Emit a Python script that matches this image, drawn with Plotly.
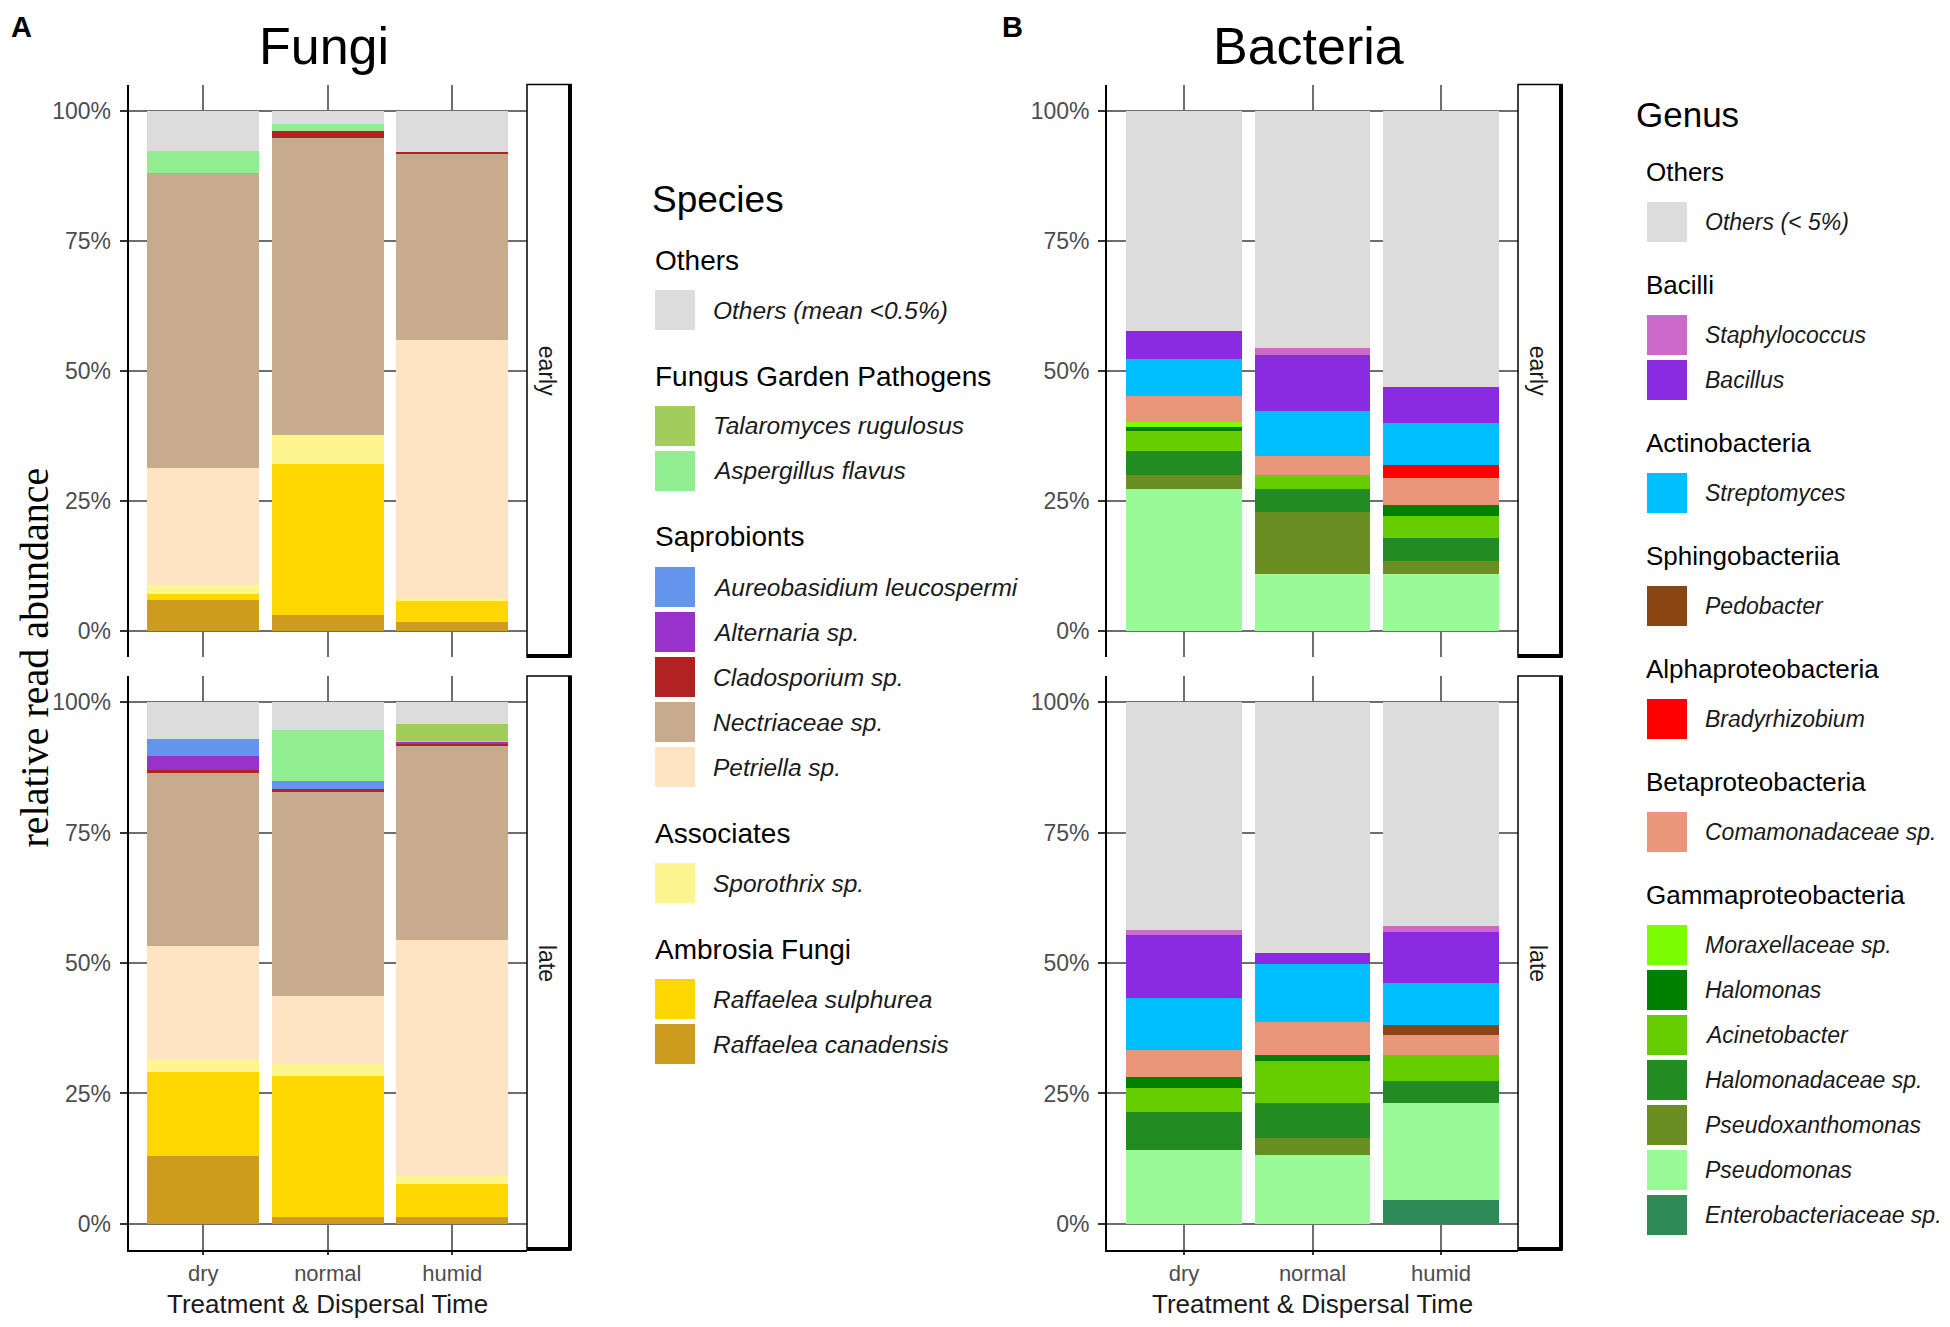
import plotly.graph_objects as go

# page coordinates of the reference (1950 x 1327); the browser body adds an 8 px margin
PAGE_W, PAGE_H = 1950, 1327
OFF = 8
W, H = PAGE_W - 2 * OFF, PAGE_H - 2 * OFF
FONT = "Liberation Sans, Arial, sans-serif"
SERIF = "Liberation Serif, Times New Roman, serif"
GRID = "#6e6e6e"

treatments = ["dry", "normal", "humid"]
timepoints = ["early", "late"]
y_ticks = [0, 25, 50, 75, 100]
y_ticklabels = ["0%", "25%", "50%", "75%", "100%"]

# ---------------- Fungi ----------------
fungi_species = ["Others (mean <0.5%)", "Talaromyces rugulosus", "Aspergillus flavus",
                 "Aureobasidium leucospermi", "Alternaria sp.", "Cladosporium sp.",
                 "Nectriaceae sp.", "Petriella sp.", "Sporothrix sp.",
                 "Raffaelea sulphurea", "Raffaelea canadensis"]
fungi_groups = ["Others", "Fungus Garden Pathogens", "Fungus Garden Pathogens",
                "Saprobionts", "Saprobionts", "Saprobionts", "Saprobionts", "Saprobionts",
                "Associates", "Ambrosia Fungi", "Ambrosia Fungi"]
fungi_colors = ["#DCDCDC", "#A2CD5A", "#90EE90", "#6495ED", "#9932CC", "#B22222",
                "#C8AA8F", "#FFE4C4", "#FFF68F", "#FFD700", "#CD9B1D"]

fungi_early_dry    = [7.8, 0.0, 4.1, 0.0, 0.0, 0.0, 56.7, 22.5, 1.7, 1.2, 6.0]
fungi_early_normal = [2.6, 0.0, 1.4, 0.0, 0.0, 1.2, 57.1, 0.0, 5.6, 29.0, 3.1]
fungi_early_humid  = [8.0, 0.0, 0.0, 0.0, 0.0, 0.4, 35.6, 49.7, 0.6, 4.0, 1.7]
fungi_late_dry     = [7.0, 0.0, 0.0, 3.4, 2.6, 0.6, 33.1, 21.9, 2.2, 16.2, 13.0]
fungi_late_normal  = [5.4, 0.0, 9.7, 1.5, 0.0, 0.6, 39.2, 13.0, 2.2, 27.0, 1.4]
fungi_late_humid   = [4.2, 3.2, 0.2, 0.0, 0.4, 0.4, 37.2, 45.3, 1.4, 6.3, 1.4]

# ---------------- Bacteria ----------------
bact_genera = ["Others (< 5%)", "Staphylococcus", "Bacillus", "Streptomyces", "Pedobacter",
               "Bradyrhizobium", "Comamonadaceae sp.", "Moraxellaceae sp.", "Halomonas",
               "Acinetobacter", "Halomonadaceae sp.", "Pseudoxanthomonas", "Pseudomonas",
               "Enterobacteriaceae sp."]
bact_groups = ["Others", "Bacilli", "Bacilli", "Actinobacteria", "Sphingobacteriia",
               "Alphaproteobacteria", "Betaproteobacteria", "Gammaproteobacteria",
               "Gammaproteobacteria", "Gammaproteobacteria", "Gammaproteobacteria",
               "Gammaproteobacteria", "Gammaproteobacteria", "Gammaproteobacteria"]
bact_colors = ["#DCDCDC", "#CD69C9", "#8A2BE2", "#00BFFF", "#8B4513", "#FF0000",
               "#E9967A", "#7CFC00", "#008000", "#66CD00", "#228B22", "#6B8E23",
               "#98FB98", "#2E8B57"]

bact_early_dry    = [42.3, 0.0, 5.4, 7.1, 0.0, 0.0, 5.0, 1.0, 0.8, 3.8, 4.7, 2.6, 27.3, 0.0]
bact_early_normal = [45.6, 1.4, 10.8, 8.5, 0.0, 0.0, 3.8, 0.0, 0.0, 2.7, 4.4, 11.8, 11.0, 0.0]
bact_early_humid  = [53.1, 0.0, 7.0, 8.0, 0.0, 2.5, 5.1, 0.0, 2.2, 4.2, 4.4, 2.5, 11.0, 0.0]
bact_late_dry     = [43.7, 0.9, 12.2, 9.8, 0.0, 0.0, 5.3, 0.0, 2.0, 4.6, 7.3, 0.0, 14.2, 0.0]
bact_late_normal  = [48.1, 0.0, 2.1, 11.2, 0.0, 0.0, 6.3, 0.0, 1.0, 8.1, 6.7, 3.3, 13.2, 0.0]
bact_late_humid   = [42.9, 1.1, 9.9, 7.9, 2.0, 0.0, 3.9, 0.0, 0.0, 4.9, 4.2, 0.0, 18.7, 4.5]


def px(x):
    return (x - OFF) / W


def py(y):
    return 1 - (y - OFF) / H


fig = go.Figure()

# panel geometry (page pixels)
FX = (128.5, 527)
BX = (1107, 1518)
EY = (84.6, 657)
LY = (676, 1250)
STRIP_W = 44


def add_panel(names, colors, columns, xa, ya):
    for i in reversed(range(len(names))):
        fig.add_trace(go.Bar(
            x=treatments, y=[col[i] for col in columns], name=names[i],
            marker=dict(color=colors[i], line=dict(width=0)),
            xaxis=xa, yaxis=ya, showlegend=False,
            hovertemplate="%{x}: %{y:.1f}%<extra>" + names[i] + "</extra>"))


add_panel(fungi_species, fungi_colors,
          [fungi_early_dry, fungi_early_normal, fungi_early_humid], "x", "y")
add_panel(fungi_species, fungi_colors,
          [fungi_late_dry, fungi_late_normal, fungi_late_humid], "x2", "y2")
add_panel(bact_genera, bact_colors,
          [bact_early_dry, bact_early_normal, bact_early_humid], "x3", "y3")
add_panel(bact_genera, bact_colors,
          [bact_late_dry, bact_late_normal, bact_late_humid], "x4", "y4")


def xaxis(dom, anchor, bottom):
    d = dict(domain=[px(dom[0]), px(dom[1])], anchor=anchor, type="category",
             categoryorder="array", categoryarray=treatments,
             range=[-0.6, 2.6], showgrid=True, gridcolor=GRID, gridwidth=1.5,
             zeroline=False, fixedrange=True)
    if bottom:
        d.update(showline=True, linecolor="black", linewidth=1.8, ticks="outside",
                 ticklen=3, tickcolor="#333333", tickwidth=1.5, showticklabels=True,
                 tickfont=dict(family=FONT, size=22, color="#4D4D4D"),
                 ticklabelstandoff=0)
    else:
        d.update(showline=False, ticks="", showticklabels=False)
    return d


def yaxis(dom, anchor):
    return dict(domain=[py(dom[1]), py(dom[0])], anchor=anchor, range=[-5, 105],
                tickmode="array", tickvals=y_ticks, ticktext=y_ticklabels,
                showgrid=True, gridcolor=GRID, gridwidth=1.5, zeroline=False,
                showline=True, linecolor="black", linewidth=1.8, ticks="outside",
                ticklen=7, tickcolor="#333333", tickwidth=1.5,
                tickfont=dict(family=FONT, size=23, color="#4D4D4D"),
                ticklabelstandoff=4, fixedrange=True)


fig.update_layout(
    width=W, height=H, margin=dict(l=0, r=0, t=0, b=0),
    paper_bgcolor="white", plot_bgcolor="white",
    barmode="stack", bargap=0.1, showlegend=False,
    font=dict(family=FONT, color="black"),
    xaxis=xaxis(FX, "y", False), yaxis=yaxis(EY, "x"),
    xaxis2=xaxis(FX, "y2", True), yaxis2=yaxis(LY, "x2"),
    xaxis3=xaxis(BX, "y3", False), yaxis3=yaxis(EY, "x3"),
    xaxis4=xaxis(BX, "y4", True), yaxis4=yaxis(LY, "x4"),
)

shapes = []
annotations = []


def text(x, y, s, size, color="black", xanchor="center", yanchor="middle",
         family=FONT, angle=0):
    annotations.append(dict(x=px(x), y=py(y), xref="paper", yref="paper", text=s,
                            showarrow=False, xanchor=xanchor, yanchor=yanchor,
                            textangle=angle,
                            font=dict(family=family, size=size, color=color)))


# facet strips
for xr in (FX, BX):
    for yr, lab in zip((EY, LY), timepoints):
        x0, x1 = xr[1], xr[1] + STRIP_W
        shapes.append(dict(type="rect", xref="paper", yref="paper",
                           x0=px(x0), x1=px(x1), y0=py(yr[1]), y1=py(yr[0]),
                           line=dict(color="black", width=1.5), fillcolor="white"))
        shapes.append(dict(type="line", xref="paper", yref="paper",
                           x0=px(x1 - 1), x1=px(x1 - 1), y0=py(yr[1]), y1=py(yr[0]),
                           line=dict(color="black", width=4)))
        shapes.append(dict(type="line", xref="paper", yref="paper",
                           x0=px(x0), x1=px(x1), y0=py(yr[1] - 1), y1=py(yr[1] - 1),
                           line=dict(color="black", width=4)))
        text((x0 + x1) / 2 - 2, (yr[0] + yr[1]) / 2, lab, 23, "#1A1A1A", angle=90)

# titles and labels
text(9, 9, "<b>A</b>", 29, xanchor="left", yanchor="top")
text(1000, 9, "<b>B</b>", 29, xanchor="left", yanchor="top")
text(324, 46, "Fungi", 52)
text(1308, 46, "Bacteria", 52)
text(9, 658, "relative read abundance", 40, family=SERIF, angle=-90, xanchor="left")
text((FX[0] + FX[1]) / 2, 1304, "Treatment &amp; Dispersal Time", 26, "#1A1A1A")
text((BX[0] + BX[1]) / 2, 1304, "Treatment &amp; Dispersal Time", 26, "#1A1A1A")


def legend(title, names, groups, colors, x_title, y_title, x_hdr, x_sw, x_txt,
           first_hdr, hdr_gap, step, grp_gap, title_size, hdr_size, item_size):
    text(x_title, y_title, title, title_size, xanchor="left")
    y = first_hdr
    prev = None
    for name, grp, col in zip(names, groups, colors):
        if grp != prev:
            if prev is not None:
                y += grp_gap
            text(x_hdr, y, grp, hdr_size, xanchor="left")
            y += hdr_gap
            prev = grp
        else:
            y += step
        shapes.append(dict(type="rect", xref="paper", yref="paper",
                           x0=px(x_sw), x1=px(x_sw + 40), y0=py(y + 20), y1=py(y - 20),
                           line=dict(width=0), fillcolor=col))
        text(x_txt, y, "<i>" + name + "</i>", item_size, "#1A1A1A", xanchor="left")


legend("Species", fungi_species, fungi_groups, fungi_colors,
       650, 200, 653, 655, 711, 260, 50, 45, 66, 37, 28, 24.5)
legend("Genus", bact_genera, bact_groups, bact_colors,
       1634, 115, 1644, 1647, 1703, 172, 50, 45, 63, 35, 26, 23)

fig.update_layout(shapes=shapes, annotations=annotations)
fig.write_html("out.html")
